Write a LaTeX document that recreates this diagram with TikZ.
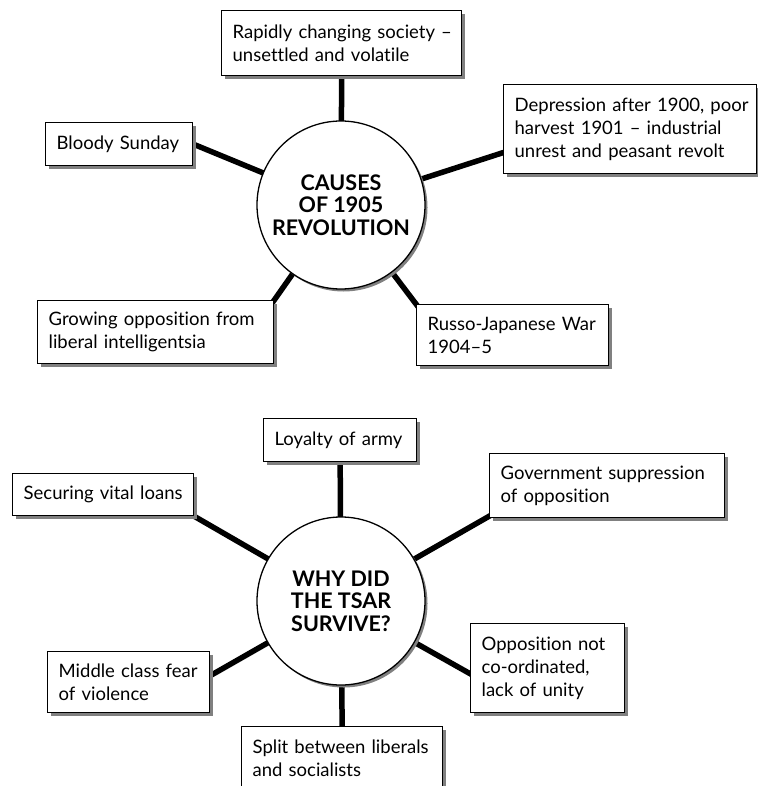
\documentclass[tikz,border=0pt]{standalone}
\usepackage{fontspec}
\setmainfont{Lato}[Ligatures=NoCommon]
\usetikzlibrary{shadows,backgrounds}
\begin{document}
\begin{tikzpicture}[x=1pt,y=-1pt,
  link/.style={line width=5.5pt, black, shorten <=-4pt, shorten >=-4pt},
  topic/.style={draw=black, line width=1.3pt, fill=white, anchor=north west,
    align=left, inner xsep=11pt, inner ysep=0pt,
    font=\fontsize{18.5}{23}\selectfont,
    drop shadow={shadow xshift=3.5pt, shadow yshift=-3.5pt, fill=black!50, opacity=1}},
  hub/.style={circle, draw=black, line width=1.3pt, fill=white, minimum size=168pt,
    inner sep=0pt, align=center, font=\fontsize{21.5}{22.5}\selectfont\bfseries,
    drop shadow={shadow xshift=2.5pt, shadow yshift=-2.5pt, fill=black!50, opacity=1}}
]
\useasboundingbox (0,0) rectangle (757,786);

% ---- causes of the 1905 revolution ----
\node[hub] (c1) at (341,205) {CAUSES\\OF 1905\\REVOLUTION};
\node[topic, minimum width=240pt, text width=218pt, minimum height=65pt] (rap) at (221,10)
  {\mbox{Rapidly changing society –}\\\mbox{unsettled and volatile}};
\node[topic, minimum width=147pt, text width=125pt, minimum height=43pt] (blo) at (45,122)
  {\mbox{Bloody Sunday}};
\node[topic, minimum width=253pt, text width=231pt, minimum height=89pt] (dep) at (503,84)
  {\mbox{Depression after 1900, poor}\\\mbox{harvest 1901 – industrial}\\\mbox{unrest and peasant revolt}};
\node[topic, minimum width=236pt, text width=214pt, minimum height=63pt] (gro) at (37,300)
  {\mbox{Growing opposition from}\\\mbox{liberal intelligentsia}};
\node[topic, minimum width=192pt, text width=170pt, minimum height=61pt] (rus) at (416,304)
  {\mbox{Russo-Japanese War}\\\mbox{1904–5}};

% ---- why the tsar survived ----
\node[hub] (c2) at (341,601) {WHY DID\\THE TSAR\\SURVIVE?};
\node[topic, minimum width=153pt, text width=131pt, minimum height=43pt] (loy) at (263,418)
  {\mbox{Loyalty of army}};
\node[topic, minimum width=181pt, text width=159pt, minimum height=42pt] (sec) at (12,473)
  {\mbox{Securing vital loans}};
\node[topic, minimum width=235pt, text width=213pt, minimum height=64pt] (gov) at (489,453)
  {\mbox{Government suppression}\\\mbox{of opposition}};
\node[topic, minimum width=162pt, text width=140pt, minimum height=61pt] (mid) at (47,651)
  {\mbox{Middle class fear}\\\mbox{of violence}};
\node[topic, minimum width=154pt, text width=132pt, minimum height=89pt] (opp) at (470,623)
  {\mbox{Opposition not}\\\mbox{co-ordinated,}\\\mbox{lack of unity}};
\node[topic, minimum width=201pt, text width=179pt, minimum height=63pt] (spl) at (241,726)
  {\mbox{Split between liberals}\\\mbox{and socialists}};

% ---- spokes ----
\begin{pgfonlayer}{background}
  \draw[link] (rap.south) -- (c1);
  \draw[link] (blo.east) -- (c1);
  \draw[link] ([yshift=-23.5pt]dep.west) -- (c1);
  \draw[link] (gro.north east) -- (c1);
  \draw[link] (rus.north west) -- (c1);
  \draw[link] (loy.south) -- (c2);
  \draw[link] (sec.south east) -- (c2);
  \draw[link] ([yshift=2pt]gov.south west) -- (c2);
  \draw[link] ([yshift=6.5pt]mid.east) -- (c2);
  \draw[link] ([yshift=-5.5pt]opp.west) -- (c2);
  \draw[link] (spl.north) -- (c2);
\end{pgfonlayer}
\end{tikzpicture}
\end{document}
